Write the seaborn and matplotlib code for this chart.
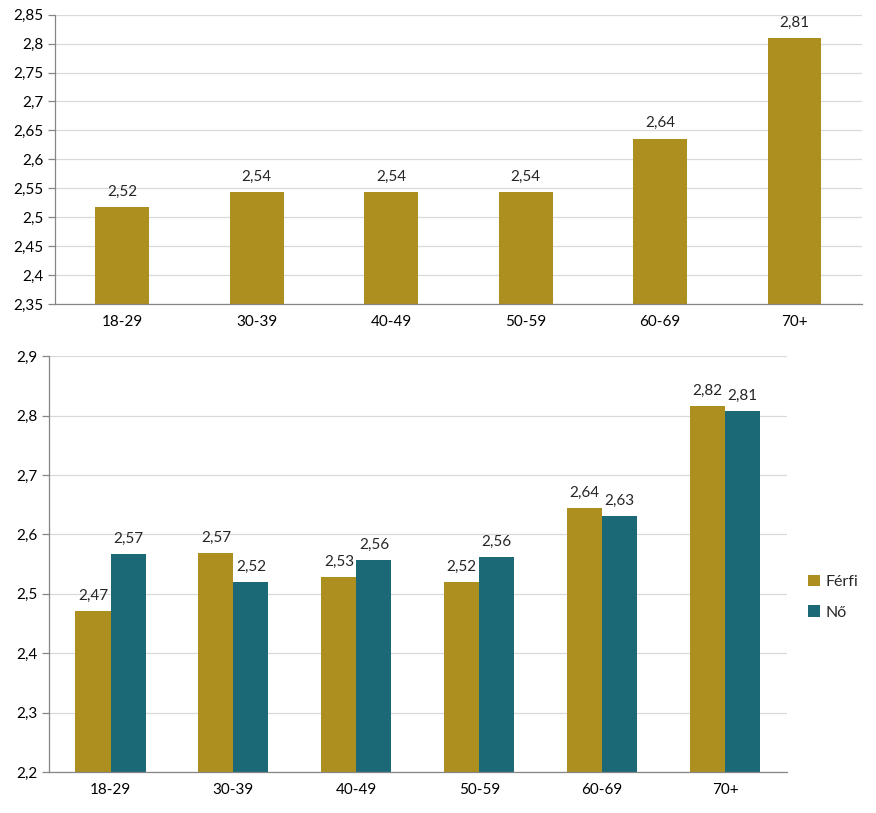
import matplotlib
matplotlib.use("Agg")
import matplotlib.pyplot as plt
from matplotlib.ticker import FuncFormatter, FixedLocator
import seaborn as sns
import pandas as pd

# data
age_groups = ["18-29", "30-39", "40-49", "50-59", "60-69", "70+"]
total_values = [2.518, 2.544, 2.543, 2.543, 2.636, 2.810]
ferfi_values = [2.471, 2.569, 2.528, 2.520, 2.644, 2.816]
no_values = [2.567, 2.520, 2.557, 2.562, 2.631, 2.807]
sex_labels = ["Férfi", "Nő"]

top_ticks = [2.35, 2.4, 2.45, 2.5, 2.55, 2.6, 2.65, 2.7, 2.75, 2.8, 2.85]
bottom_ticks = [2.2, 2.3, 2.4, 2.5, 2.6, 2.7, 2.8, 2.9]

GOLD = "#AD8F1F"
TEAL = "#1B6876"

sns.set_theme(style="white")
plt.rcParams["font.family"] = ["Lato", "DejaVu Sans"]
plt.rcParams["font.size"] = 11


def hu_num(v, pos=None):
    return f"{v:g}".replace(".", ",")


def hu_label(v):
    return f"{v:.2f}".replace(".", ",")


def style_axis(ax, ticks):
    ax.set_ylim(ticks[0], ticks[-1])
    ax.yaxis.set_major_locator(FixedLocator(ticks))
    ax.yaxis.set_major_formatter(FuncFormatter(hu_num))
    ax.grid(axis="y", color="#D9D9D9", linewidth=0.9)
    ax.set_axisbelow(True)
    for side in ["top", "right"]:
        ax.spines[side].set_visible(False)
    for side in ["left", "bottom"]:
        ax.spines[side].set_color("#868686")
        ax.spines[side].set_linewidth(0.9)
    ax.set_xlim(-0.5, len(age_groups) - 0.5)
    # tick marks between categories, labels centred without marks
    ax.set_xticks([i - 0.5 for i in range(len(age_groups) + 1)], minor=True)
    ax.tick_params(axis="x", which="minor", length=5, color="#868686", width=0.9, direction="out")
    ax.tick_params(axis="x", which="major", length=0, labelsize=11, pad=8, colors="black")
    ax.tick_params(axis="y", which="major", left=True, length=5, color="#868686",
                   width=0.9, labelsize=11, colors="black", pad=3)
    ax.set_xlabel("")
    ax.set_ylabel("")


fig = plt.figure(figsize=(8.76, 8.13), dpi=100)

# top chart
ax1 = fig.add_axes([0.0628, 0.626, 0.921, 0.356])
top_df = pd.DataFrame({"age": age_groups, "value": total_values})
sns.barplot(data=top_df, x="age", y="value", color=GOLD, width=0.4,
            saturation=1, linewidth=0, ax=ax1)
style_axis(ax1, top_ticks)
for c in ax1.containers:
    ax1.bar_label(c, fmt=hu_label, padding=6, fontsize=11)

# bottom chart
ax2 = fig.add_axes([0.056, 0.0504, 0.842, 0.5116])
bottom_df = pd.DataFrame({
    "age": age_groups * 2,
    "sex": [sex_labels[0]] * len(age_groups) + [sex_labels[1]] * len(age_groups),
    "value": ferfi_values + no_values,
})
sns.barplot(data=bottom_df, x="age", y="value", hue="sex", palette=[GOLD, TEAL],
            width=0.57, saturation=1, linewidth=0, ax=ax2)
style_axis(ax2, bottom_ticks)
for c in ax2.containers:
    ax2.bar_label(c, fmt=hu_label, padding=6, fontsize=11)

ax2.legend(loc="center left", bbox_to_anchor=(1.01, 0.42), frameon=False,
           fontsize=11.5, handlelength=0.7, handleheight=0.7, handletextpad=0.4,
           labelspacing=1.0)

fig.savefig("out.png", dpi=100, facecolor="white")
